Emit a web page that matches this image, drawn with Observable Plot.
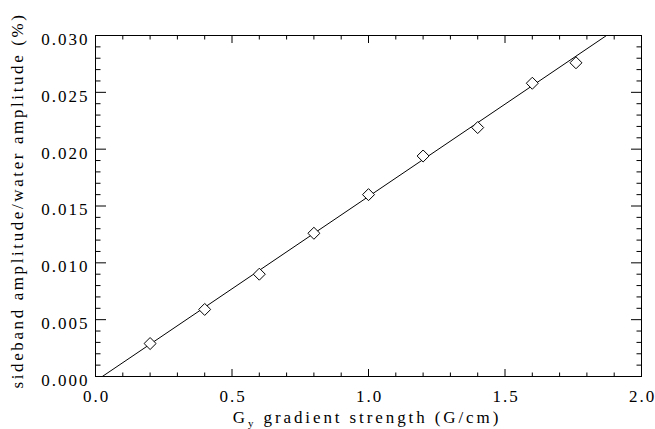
<!DOCTYPE html>
<html><head><meta charset="utf-8">
<script src="https://cdn.jsdelivr.net/npm/d3@7"></script>
<script src="https://cdn.jsdelivr.net/npm/@observablehq/plot@0.6"></script>
<style>body{margin:0;background:#fff} svg{display:block}</style>
</head><body><div id="chart"></div>
<script>
const gradient = [0.2, 0.4, 0.6, 0.8, 1.0, 1.2, 1.4, 1.6, 1.76];
const ratio = [0.0029, 0.0059, 0.0090, 0.0126, 0.0160, 0.0194, 0.0219, 0.0258, 0.0276];
const fitX = [0.025, 1.872];
const fitY = [0.0, 0.030];
const xMajor = [0, 0.5, 1.0, 1.5, 2.0];
const xMinor = [0.1, 0.2, 0.3, 0.4, 0.6, 0.7, 0.8, 0.9, 1.1, 1.2, 1.3, 1.4, 1.6, 1.7, 1.8, 1.9];
const yMajor = [0, 0.005, 0.010, 0.015, 0.020, 0.025, 0.030];
const yMinor = [0.001,0.002,0.003,0.004,0.006,0.007,0.008,0.009,0.011,0.012,0.013,0.014,
                0.016,0.017,0.018,0.019,0.021,0.022,0.023,0.024,0.026,0.027,0.028,0.029];
const xTitle = ["G", "y", " gradient strength (G/cm)"];
const yTitle = "sideband amplitude/water amplitude (%)";

const points = gradient.map((g, i) => ({g, r: ratio[i]}));
const fit = fitX.map((x, i) => ({x, y: fitY[i]}));
const blank = () => "";
const FONT = "Liberation Serif";

const plot = Plot.plot({
  width: 655, height: 429,
  marginLeft: 95, marginRight: 14, marginTop: 35, marginBottom: 53,
  style: {fontFamily: FONT, fontSize: "17px", letterSpacing: "2px", color: "#000", background: "#fff", overflow: "visible"},
  x: {domain: [0, 2]},
  y: {domain: [0, 0.030]},
  marks: [
    Plot.frame({stroke: "#000", strokeWidth: 1}),
    // bottom ticks
    Plot.axisX({anchor: "bottom", ticks: xMajor, tickSize: -7, tickFormat: blank, label: null}),
    Plot.axisX({anchor: "bottom", ticks: xMinor, tickSize: -3.5, tickFormat: blank, label: null}),
    Plot.axisX({anchor: "bottom", ticks: xMajor, tickSize: 0, tickPadding: 13, tickFormat: ".1f", label: null, dx: 1}),
    // top ticks
    Plot.axisX({anchor: "top", ticks: xMajor, tickSize: -7, tickFormat: blank, label: null}),
    Plot.axisX({anchor: "top", ticks: xMinor, tickSize: -3.5, tickFormat: blank, label: null}),
    // left ticks
    Plot.axisY({anchor: "left", ticks: yMajor, tickSize: -11, tickFormat: blank, label: null}),
    Plot.axisY({anchor: "left", ticks: yMinor, tickSize: -5.5, tickFormat: blank, label: null}),
    Plot.axisY({anchor: "left", ticks: yMajor, tickSize: 0, tickPadding: 6, tickFormat: ".3f", label: null, dy: 4}),
    // right ticks
    Plot.axisY({anchor: "right", ticks: yMajor, tickSize: -11, tickFormat: blank, label: null}),
    Plot.axisY({anchor: "right", ticks: yMinor, tickSize: -5.5, tickFormat: blank, label: null}),
    Plot.line(fit, {x: "x", y: "y", stroke: "#000", strokeWidth: 1}),
    Plot.dot(points, {x: "g", y: "r", symbol: "diamond2", r: 5.4, fill: "#fff", stroke: "#000", strokeWidth: 1})
  ]
});

const svg = d3.select(plot);
const xs = plot.scale("x"), ys = plot.scale("y");
const cx = (xs.apply(0) + xs.apply(2)) / 2;
const t = svg.append("text")
  .attr("x", cx - 1).attr("y", 423)
  .attr("text-anchor", "middle")
  .attr("font-family", FONT).attr("font-size", 17).attr("fill", "#000")
  .style("letter-spacing", "2.9px");
t.append("tspan").text(xTitle[0]);
t.append("tspan").attr("font-size", 11).attr("dy", 4).text(xTitle[1]);
t.append("tspan").attr("dy", -4).text(xTitle[2]);

const cy = (ys.apply(0) + ys.apply(0.03)) / 2 - 5;
svg.append("text")
  .attr("transform", `translate(23,${cy}) rotate(-90)`)
  .attr("text-anchor", "middle")
  .attr("font-family", FONT).attr("font-size", 17).attr("fill", "#000")
  .style("letter-spacing", "2.6px")
  .text(yTitle);

document.getElementById("chart").appendChild(plot);
</script>
</body></html>
